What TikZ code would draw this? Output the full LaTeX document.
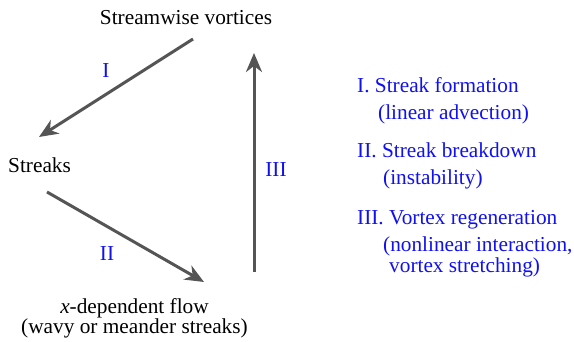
\documentclass[tikz,border=0pt]{standalone}
\usepackage{fontspec}
\setmainfont{Liberation Serif}
\usetikzlibrary{arrows.meta}
\definecolor{arrgray}{HTML}{555555}
\definecolor{lblblue}{HTML}{1010F0}
\tikzset{
  txt/.style={inner sep=0pt, anchor=base, font=\fontsize{21.3}{25}\selectfont},
  bluetxt/.style={txt, text=lblblue},
  leftblue/.style={bluetxt, anchor=base west},
  flowarrow/.style={draw=arrgray, line width=3pt, -{Stealth[length=19pt,width=16pt,inset=6pt]}}
}
\begin{document}
\begin{tikzpicture}[x=1pt,y=-1pt]
\useasboundingbox (0,0) rectangle (574,342);
\node[txt] (sv) at (186,25) {Streamwise vortices};
\node[txt, anchor=base west] (st) at (8,173) {Streaks};
\node[txt, align=center, font=\fontsize{21.3}{19}\selectfont, anchor=base] (xd) at (134.5,334)
  {\textit{x}-dependent flow\\(wavy or meander streaks)};
\coordinate (aIs) at (193,39);
\coordinate (aIe) at (39,137);
\coordinate (aIIs) at (47,192);
\coordinate (aIIe) at (204,282);
\coordinate (aIIIs) at (254,272);
\coordinate (aIIIe) at (254,53);
\draw[flowarrow] (aIs) -- (aIe);
\draw[flowarrow] (aIIs) -- (aIIe);
\draw[flowarrow] (aIIIs) -- (aIIIe);
\node[bluetxt] (lI) at (106,78) {I};
\node[bluetxt] (lII) at (107,261) {II};
\node[bluetxt] (lIII) at (276,177) {III};
\node[leftblue] (d1) at (357,93) {I. Streak formation};
\node[leftblue] (d1b) at (378,120) {(linear advection)};
\node[leftblue] (d2) at (357,158) {II. Streak breakdown};
\node[leftblue] (d2b) at (383,185) {(instability)};
\node[leftblue] (d3) at (357,225) {III. Vortex regeneration};
\node[leftblue] (d3b) at (383,252) {(nonlinear interaction,};
\node[leftblue] (d3c) at (389,273) {vortex stretching)};
\end{tikzpicture}
\end{document}
